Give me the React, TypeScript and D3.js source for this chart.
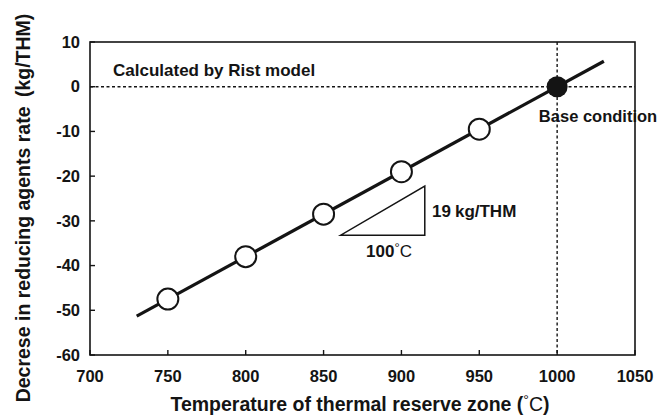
import React from "react";
import * as d3 from "d3";

const temps = [750, 800, 850, 900, 950];
const decrease = [-47.5, -38, -28.5, -19, -9.5];
const baseTemp = [1000];
const baseValue = [0];
const fitTemps = [730, 1030];
const fitValues = [-51.3, 5.7];
const triTemps = [861, 915];
const triValues = [-33.2, -22.2];
const xTicks = [700, 750, 800, 850, 900, 950, 1000, 1050];
const yTicks = [10, 0, -10, -20, -30, -40, -50, -60];

const W = 661;
const H = 417;
const M = { left: 90, right: 635, top: 42, bottom: 355 };
const FONT = "'Liberation Sans', Arial, Helvetica, sans-serif";
const INK = "#141414";

export default function App() {
  const x = d3.scaleLinear().domain([700, 1050]).range([M.left, M.right]);
  const y = d3.scaleLinear().domain([-60, 10]).range([M.bottom, M.top]);
  const line = d3
    .line<[number, number]>()
    .x((d) => x(d[0]))
    .y((d) => y(d[1]));
  const fit: [number, number][] = fitTemps.map((t, i) => [t, fitValues[i]]);
  const tri: [number, number][] = [
    [triTemps[0], triValues[0]],
    [triTemps[1], triValues[0]],
    [triTemps[1], triValues[1]],
  ];
  const triPath = line(tri) + "Z";

  return (
    <svg
      width={W}
      height={H}
      style={{ position: "absolute", left: 0, top: 0, background: "#fff" }}
      fontFamily={FONT}
    >
      <rect x={0} y={0} width={W} height={H} fill="#fff" />
      {/* reference dashed lines */}
      <line
        x1={M.left}
        x2={M.right}
        y1={y(baseValue[0])}
        y2={y(baseValue[0])}
        stroke={INK}
        strokeWidth={1.4}
        strokeDasharray="3,2.5"
      />
      <line
        x1={x(baseTemp[0])}
        x2={x(baseTemp[0])}
        y1={M.top}
        y2={M.bottom}
        stroke={INK}
        strokeWidth={1.4}
        strokeDasharray="3,2.5"
      />
      {/* frame */}
      <rect
        x={M.left}
        y={M.top}
        width={M.right - M.left}
        height={M.bottom - M.top}
        fill="none"
        stroke={INK}
        strokeWidth={1.6}
      />
      {/* ticks */}
      {xTicks.map((t) => (
        <g key={"xt" + t}>
          <line x1={x(t)} x2={x(t)} y1={M.bottom} y2={M.bottom - 5} stroke={INK} strokeWidth={1.4} />
          <text x={x(t)} y={382} textAnchor="middle" fontSize={16.5} fontWeight="bold" fill={INK}>
            {t}
          </text>
        </g>
      ))}
      {yTicks.map((t) => (
        <g key={"yt" + t}>
          <line x1={M.left} x2={M.left + 5} y1={y(t)} y2={y(t)} stroke={INK} strokeWidth={1.4} />
          <text
            x={M.left - 10}
            y={y(t)}
            dy="0.35em"
            textAnchor="end"
            fontSize={16.5}
            fontWeight="bold"
            fill={INK}
          >
            {t}
          </text>
        </g>
      ))}
      {/* fitted line */}
      <path d={line(fit) || ""} fill="none" stroke={INK} strokeWidth={3.2} />
      {/* slope triangle */}
      <path d={triPath} fill="none" stroke={INK} strokeWidth={1.5} strokeLinejoin="miter" />
      {/* points */}
      {temps.map((t, i) => (
        <circle key={"p" + t} cx={x(t)} cy={y(decrease[i])} r={10.5} fill="#fff" stroke={INK} strokeWidth={2} />
      ))}
      <circle cx={x(baseTemp[0])} cy={y(baseValue[0])} r={10.5} fill={INK} />
      {/* annotations */}
      <text x={113} y={76} fontSize={17} fontWeight="bold" fill={INK}>
        Calculated by Rist model
      </text>
      <text x={598} y={122} textAnchor="middle" fontSize={16.5} fontWeight="bold" fill={INK}>
        Base condition
      </text>
      <text x={432} y={217} fontSize={17} fontWeight="bold" fill={INK}>
        19<tspan dx={4}>kg/THM</tspan>
      </text>
      <text x={389} y={257} textAnchor="middle" fontSize={17} fontWeight="bold" fill={INK}>
        100<tspan fontWeight="normal" fontSize={13} dy={-5}>°</tspan>
        <tspan fontWeight="normal" dy={5}>C</tspan>
      </text>
      {/* axis titles */}
      <text x={360} y={411} textAnchor="middle" fontSize={19.5} fontWeight="bold" fill={INK}>
        Temperature of thermal reserve zone (<tspan fontWeight="normal" fontSize={14} dy={-6}>°</tspan>
        <tspan fontWeight="normal" dy={6}>C</tspan>)
      </text>
      <text
        transform="translate(30,208) rotate(-90)"
        textAnchor="middle"
        fontSize={19.5}
        fontWeight="bold"
        fill={INK}
      >
        Decrese in reducing agents rate <tspan dx={4}>(kg/THM)</tspan>
      </text>
    </svg>
  );
}
